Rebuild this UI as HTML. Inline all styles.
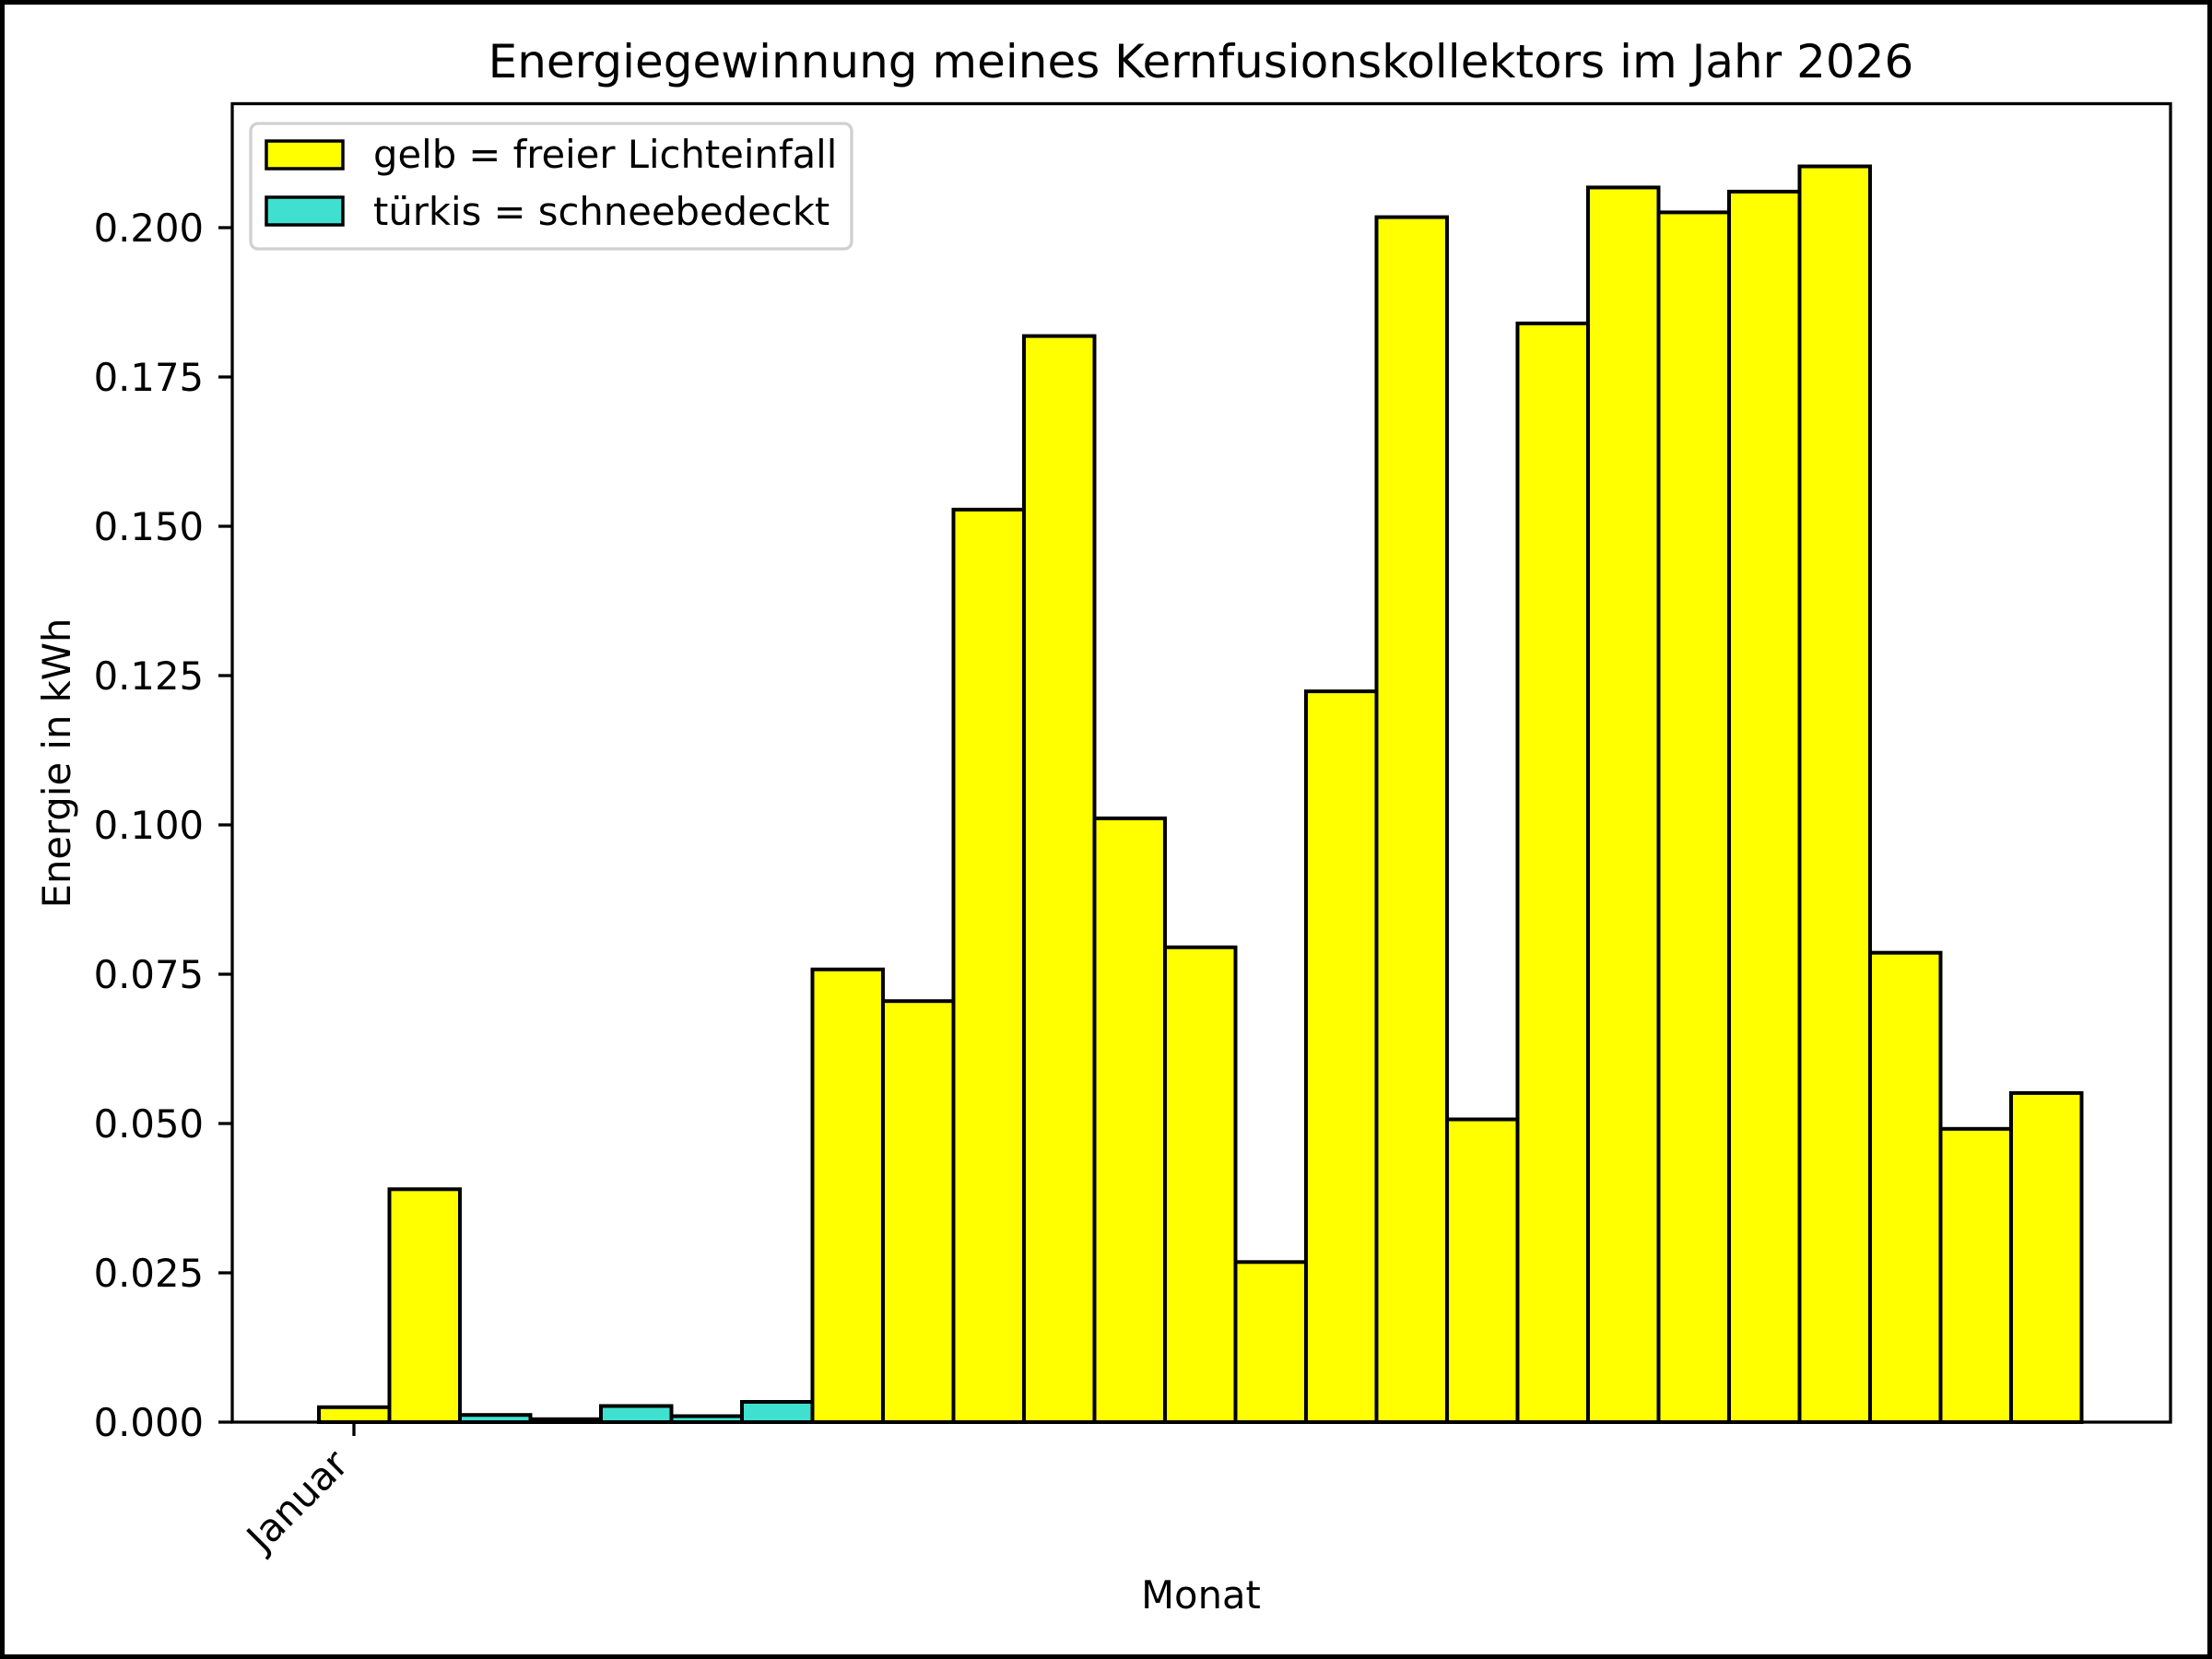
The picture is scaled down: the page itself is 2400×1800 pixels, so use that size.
<!DOCTYPE html>
<html><head><meta charset="utf-8"><style>
html,body{margin:0;padding:0;background:#fff;}
svg{display:block;}
text{font-family:"DejaVu Sans","Liberation Sans",sans-serif;fill:#000;}
</style></head><body>
<svg width="2400" height="1800" viewBox="0 0 2400 1800" xmlns="http://www.w3.org/2000/svg">
<rect x="0" y="0" width="2400" height="1800" fill="#fff"/>
<rect x="2.5" y="2.5" width="2395" height="1795" fill="none" stroke="#000" stroke-width="5"/>
<text x="1303" y="84" font-size="50" text-anchor="middle">Energiegewinnung meines Kernfusionskollektors im Jahr 2026</text>
<g stroke="#000" stroke-width="4" stroke-linejoin="miter">
<rect x="346.0" y="1526.8" width="76.5" height="16.2" fill="#ffff00"/>
<rect x="422.5" y="1290.3" width="76.5" height="252.7" fill="#ffff00"/>
<rect x="499.0" y="1535.2" width="76.5" height="7.8" fill="#40e0d0"/>
<rect x="575.5" y="1539.8" width="76.5" height="3.2" fill="#40e0d0"/>
<rect x="652.0" y="1525.5" width="76.5" height="17.5" fill="#40e0d0"/>
<rect x="728.5" y="1536.5" width="76.5" height="6.5" fill="#40e0d0"/>
<rect x="805.0" y="1521.0" width="76.5" height="22.0" fill="#40e0d0"/>
<rect x="881.5" y="1051.8" width="76.5" height="491.2" fill="#ffff00"/>
<rect x="958.0" y="1086.2" width="76.5" height="456.8" fill="#ffff00"/>
<rect x="1034.5" y="552.9" width="76.5" height="990.1" fill="#ffff00"/>
<rect x="1111.0" y="364.6" width="76.5" height="1178.4" fill="#ffff00"/>
<rect x="1187.5" y="887.9" width="76.5" height="655.1" fill="#ffff00"/>
<rect x="1264.0" y="1027.8" width="76.5" height="515.2" fill="#ffff00"/>
<rect x="1340.5" y="1369.3" width="76.5" height="173.7" fill="#ffff00"/>
<rect x="1417.0" y="750.1" width="76.5" height="792.9" fill="#ffff00"/>
<rect x="1493.5" y="235.6" width="76.5" height="1307.4" fill="#ffff00"/>
<rect x="1570.0" y="1214.5" width="76.5" height="328.5" fill="#ffff00"/>
<rect x="1646.5" y="350.9" width="76.5" height="1192.1" fill="#ffff00"/>
<rect x="1723.0" y="203.4" width="76.5" height="1339.6" fill="#ffff00"/>
<rect x="1799.5" y="230.4" width="76.5" height="1312.6" fill="#ffff00"/>
<rect x="1876.0" y="207.9" width="76.5" height="1335.1" fill="#ffff00"/>
<rect x="1952.5" y="180.5" width="76.5" height="1362.5" fill="#ffff00"/>
<rect x="2029.0" y="1033.7" width="76.5" height="509.3" fill="#ffff00"/>
<rect x="2105.5" y="1224.8" width="76.5" height="318.2" fill="#ffff00"/>
<rect x="2182.0" y="1185.9" width="76.5" height="357.1" fill="#ffff00"/>
</g>
<rect x="252" y="112.5" width="2103" height="1430.5" fill="none" stroke="#000" stroke-width="3.3"/>
<g stroke="#000" stroke-width="3.3">
<line x1="237" y1="1543" x2="252" y2="1543"/>
<line x1="237" y1="1381" x2="252" y2="1381"/>
<line x1="237" y1="1219" x2="252" y2="1219"/>
<line x1="237" y1="1057" x2="252" y2="1057"/>
<line x1="237" y1="895" x2="252" y2="895"/>
<line x1="237" y1="733" x2="252" y2="733"/>
<line x1="237" y1="571" x2="252" y2="571"/>
<line x1="237" y1="409" x2="252" y2="409"/>
<line x1="237" y1="247" x2="252" y2="247"/>
<line x1="384" y1="1543" x2="384" y2="1558"/>
</g>
<g font-size="41.7" text-anchor="end">
<text x="221" y="1558">0.000</text>
<text x="221" y="1396">0.025</text>
<text x="221" y="1234">0.050</text>
<text x="221" y="1072">0.075</text>
<text x="221" y="910">0.100</text>
<text x="221" y="748">0.125</text>
<text x="221" y="586">0.150</text>
<text x="221" y="424">0.175</text>
<text x="221" y="262">0.200</text>
</g>
<text x="0" y="0" font-size="41.7" text-anchor="end" transform="translate(380,1591) rotate(-45)">Januar</text>
<text x="1303" y="1745" font-size="41.7" text-anchor="middle">Monat</text>
<text x="0" y="0" font-size="41.7" text-anchor="middle" transform="translate(76,828) rotate(-90)">Energie in kWh</text>
<rect x="272" y="134" width="652" height="136" rx="8" fill="#fff" fill-opacity="0.8" stroke="#d0d0d0" stroke-width="3.3"/>
<rect x="289" y="153" width="83" height="30" fill="#ffff00" stroke="#000" stroke-width="3.5"/>
<rect x="289" y="214" width="83" height="30" fill="#40e0d0" stroke="#000" stroke-width="3.5"/>
<g font-size="41.7">
<text x="405" y="182">gelb = freier Lichteinfall</text>
<text x="405" y="244">türkis = schneebedeckt</text>
</g>
</svg>
</body></html>
